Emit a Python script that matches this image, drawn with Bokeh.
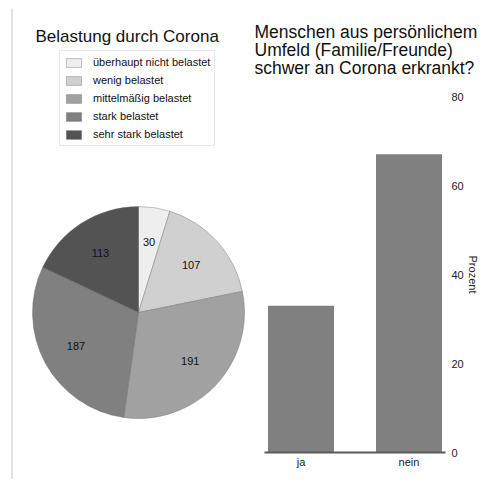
import numpy as np
from bokeh.plotting import figure
from bokeh.models import (ColumnDataSource, Range1d, Legend, LegendItem, Span, Label,
                          FactorRange, FixedTicker)
from bokeh.layouts import row
from bokeh.embed import file_html
from bokeh.resources import INLINE
from bokeh.core.properties import value

FONT = "Liberation Sans"

# ---- data ----
pie_categories = ["überhaupt nicht belastet", "wenig belastet", "mittelmäßig belastet",
                  "stark belastet", "sehr stark belastet"]
pie_counts = [30, 107, 191, 187, 113]
pie_colors = ["#eeeeee", "#d0d0d0", "#a1a1a1", "#808080", "#535353"]

bar_categories = ["ja", "nein"]
bar_percent = [33.0, 67.0]
y_ticks = [0, 20, 40, 60, 80]

left_title = "Belastung durch Corona"
right_title = "Menschen aus persönlichem\nUmfeld (Familie/Freunde)\nschwer an Corona erkrankt?"
y_label = "Prozent"

# ---- left: pie ----
W1, H1 = 244, 471
p1 = figure(frame_width=W1, frame_height=H1, x_range=Range1d(0, W1), y_range=Range1d(0, H1),
            output_backend="svg", toolbar_location=None,
            min_border_left=8, min_border_top=8, min_border_right=0, min_border_bottom=0)
p1.axis.visible = False
p1.grid.visible = False
p1.outline_line_color = None

cx, cy, r = 130, 167, 106
counts = np.array(pie_counts, dtype=float)
frac = counts / counts.sum()
cum = np.concatenate([[0.0], np.cumsum(frac)])
start = np.pi / 2 - cum[:-1] * 2 * np.pi
end = np.pi / 2 - cum[1:] * 2 * np.pi
mid = (start + end) / 2
src = ColumnDataSource(dict(start=start, end=end, color=pie_colors, label=pie_categories,
                            txt=[str(c) for c in pie_counts],
                            lx=cx + 0.67 * r * np.cos(mid), ly=cy + 0.67 * r * np.sin(mid)))
w = p1.wedge(x=cx, y=cy, radius=r, start_angle="start", end_angle="end", direction="clock",
             fill_color="color", line_color="#6a6a6a", line_width=0.4, source=src)
p1.text(x="lx", y="ly", text="txt", source=src, text_align="center", text_baseline="middle",
        text_font=value(FONT), text_font_size="11px", text_color="#111111")

legend = Legend(items=[LegendItem(label=pie_categories[i], renderers=[w], index=i)
                       for i in range(len(pie_categories))],
                location=(51, 333), label_text_font=FONT, label_text_font_size="11px",
                label_text_color="#111111", glyph_width=19, glyph_height=11,
                label_height=14, label_standoff=10, spacing=4, padding=4, margin=0,
                border_line_color="#c9d1db", border_line_width=1,
                background_fill_color="white", background_fill_alpha=1.0)
p1.add_layout(legend)

p1.add_layout(Label(x=27, y=443, text=left_title, text_font=FONT, text_font_size="17px",
                    text_baseline="alphabetic", text_color="#111111"))
p1.add_layout(Span(location=3.5, dimension="height", line_color="#d3dae3", line_width=1.5))

# ---- right: bars ----
p2 = figure(x_range=FactorRange(*bar_categories, range_padding=-0.162),
            y_range=Range1d(0, 80), frame_width=181, frame_height=356,
            min_border_left=12, min_border_top=96, min_border_right=0, min_border_bottom=0,
            y_axis_location="right", output_backend="svg", toolbar_location=None,
            title=right_title)
p2.outline_line_color = None
p2.grid.visible = False
p2.vbar(x=bar_categories, top=bar_percent, width=0.611, fill_color="#808080", line_color=None)

p2.title.text_font = FONT
p2.title.text_font_size = "17.5px"
p2.title.text_font_style = "normal"
p2.title.text_color = "#111111"
p2.title.align = "left"
p2.title.offset = -10
p2.title.text_line_height = 0.9
p2.title.standoff = 37

ya = p2.yaxis[0]
ya.ticker = FixedTicker(ticks=y_ticks)
ya.axis_line_color = None
ya.major_tick_line_color = None
ya.minor_tick_line_color = None
ya.major_label_text_font = FONT
ya.major_label_text_font_size = "11px"
ya.major_label_text_color = "#222222"
ya.major_label_standoff = 0
ya.axis_label = y_label
ya.axis_label_text_font = FONT
ya.axis_label_text_font_size = "11px"
ya.axis_label_text_font_style = "normal"
ya.axis_label_text_color = "#222222"
ya.axis_label_standoff = 0

xa = p2.xaxis[0]
xa.axis_line_color = "#5a5a5a"
xa.axis_line_width = 2
xa.major_tick_line_color = None
xa.minor_tick_line_color = None
xa.major_label_text_font = FONT
xa.major_label_text_font_size = "11px"
xa.major_label_text_color = "#222222"
xa.major_label_standoff = -3

for p in (p1, p2):
    if "frame_align" in p.properties():
        p.frame_align = False

layout = row(p1, p2)
open("out.html", "w").write(file_html(layout, INLINE))
